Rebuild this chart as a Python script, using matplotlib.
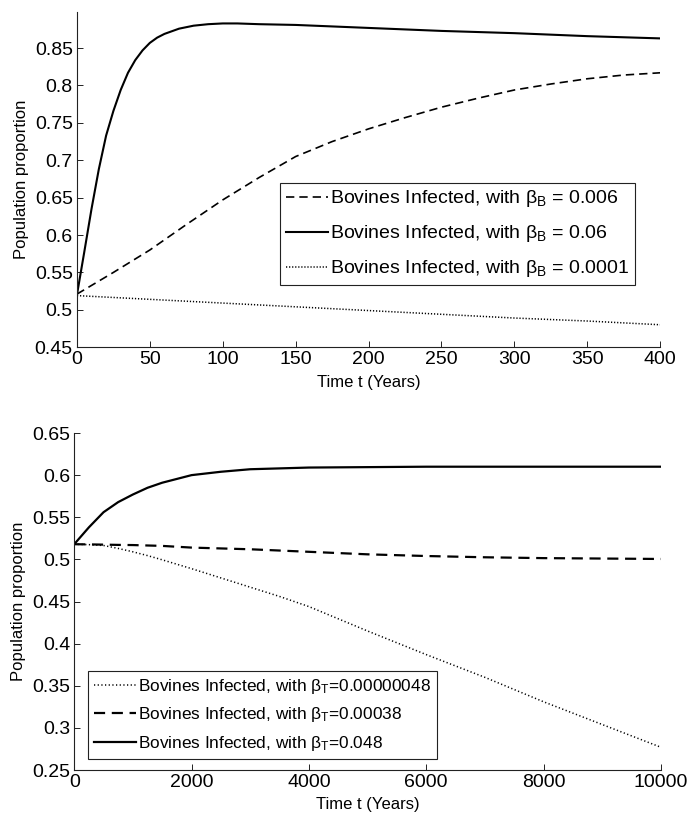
import matplotlib
matplotlib.use("Agg")
import matplotlib.pyplot as plt
import numpy as np

plt.rcParams['font.family'] = ['Liberation Sans', 'DejaVu Sans']
plt.rcParams['mathtext.fontset'] = 'custom'
plt.rcParams['mathtext.rm'] = 'Liberation Sans'
plt.rcParams['mathtext.default'] = 'regular'

# upper panel: beta_B sweep, time in years
t_fast = [0, 5, 10, 15, 20, 25, 30, 35, 40, 45, 50, 55, 60, 70, 80, 90, 100,
          110, 125, 150, 175, 200, 250, 300, 350, 400]
inf_b_006 = [0.520, 0.577, 0.635, 0.688, 0.733, 0.766, 0.794, 0.817, 0.834, 0.847,
             0.857, 0.864, 0.869, 0.876, 0.880, 0.882, 0.883,
             0.883, 0.882, 0.881, 0.879, 0.877, 0.873, 0.870, 0.866, 0.863]

t_slow = [0, 25, 50, 75, 100, 125, 150, 175, 200, 225, 250, 275, 300, 325, 350, 375, 400]
inf_b_0006 = [0.521, 0.550, 0.580, 0.614, 0.647, 0.677, 0.705, 0.725, 0.742, 0.757,
              0.771, 0.783, 0.794, 0.802, 0.809, 0.814, 0.817]
inf_b_00001 = [0.519, 0.5165, 0.514, 0.5115, 0.509, 0.5065, 0.504, 0.5015, 0.499, 0.4965,
               0.494, 0.4915, 0.489, 0.487, 0.485, 0.4825, 0.480]

labels_b = [r'Bovines Infected, with $\beta_B$ = 0.006',
            r'Bovines Infected, with $\beta_B$ = 0.06',
            r'Bovines Infected, with $\beta_B$ = 0.0001']

# lower panel: beta_T sweep
t_long = [0, 250, 500, 750, 1000, 1250, 1500, 2000, 2500, 3000, 3500, 4000,
          5000, 6000, 7000, 8000, 9000, 10000]
inf_t_048 = [0.518, 0.538, 0.556, 0.568, 0.577, 0.585, 0.591, 0.600, 0.604, 0.607,
             0.608, 0.609, 0.6095, 0.610, 0.610, 0.610, 0.610, 0.610]
inf_t_00038 = [0.518, 0.5178, 0.5175, 0.5172, 0.517, 0.5165, 0.516, 0.514, 0.513, 0.512,
               0.5105, 0.509, 0.506, 0.504, 0.5025, 0.5015, 0.501, 0.5005]
inf_t_tiny = [0.518, 0.5175, 0.5165, 0.513, 0.509, 0.5045, 0.4995, 0.489, 0.478, 0.467,
              0.456, 0.444, 0.415, 0.387, 0.360, 0.331, 0.304, 0.277]

labels_t = [r'Bovines Infected, with $\beta_T$=0.00000048',
            r'Bovines Infected, with $\beta_T$=0.00038',
            r'Bovines Infected, with $\beta_T$=0.048']

fig = plt.figure(figsize=(6.87, 8.15), dpi=100)
ax1 = fig.add_axes([0.112, 0.574, 0.849, 0.411])
ax2 = fig.add_axes([0.108, 0.0552, 0.854, 0.4135])


def style(ax):
    ax.spines['top'].set_visible(False)
    ax.spines['right'].set_visible(False)
    for s in ('left', 'bottom'):
        ax.spines[s].set_linewidth(0.8)
        ax.spines[s].set_color('#222222')
    ax.tick_params(direction='in', length=4, width=0.7, labelsize=14, pad=3,
                   top=False, right=False, colors='#222222', labelcolor='black')
    ax.set_xlabel('Time t (Years)', fontsize=12, labelpad=4.5)
    ax.set_ylabel('Population proportion', fontsize=12, labelpad=4)


ax1.plot(t_slow, inf_b_0006, color='black', lw=1.2, dashes=(5, 3), label=labels_b[0])
ax1.plot(t_fast, inf_b_006, color='black', lw=1.5, label=labels_b[1])
ax1.plot(t_slow, inf_b_00001, color='black', lw=1.1, dashes=(0.8, 1.2), label=labels_b[2])
ax1.set_xlim(0, 400)
ax1.set_ylim(0.45, 0.898)
ax1.set_xticks(np.arange(0, 401, 50))
ax1.set_yticks([0.45, 0.5, 0.55, 0.6, 0.65, 0.7, 0.75, 0.8, 0.85])
ax1.set_yticklabels(['0.45', '0.5', '0.55', '0.6', '0.65', '0.7', '0.75', '0.8', '0.85'])
style(ax1)
leg1 = ax1.legend(loc='lower right', bbox_to_anchor=(0.957, 0.185), borderaxespad=0,
                  fontsize=14, fancybox=False, framealpha=1, edgecolor='#222222',
                  handlelength=2.2, handletextpad=0.1, labelspacing=0.72, borderpad=0.3)
leg1.get_frame().set_linewidth(0.8)

ax2.plot(t_long, inf_t_tiny, color='black', lw=1.1, dashes=(0.8, 1.6), label=labels_t[0])
ax2.plot(t_long, inf_t_00038, color='black', lw=1.6, dashes=(5, 3), label=labels_t[1])
ax2.plot(t_long, inf_t_048, color='black', lw=1.6, label=labels_t[2])
ax2.set_xlim(0, 10000)
ax2.set_ylim(0.25, 0.65)
ax2.set_xticks(np.arange(0, 10001, 2000))
ax2.set_yticks([0.25, 0.3, 0.35, 0.4, 0.45, 0.5, 0.55, 0.6, 0.65])
ax2.set_yticklabels(['0.25', '0.3', '0.35', '0.4', '0.45', '0.5', '0.55', '0.6', '0.65'])
style(ax2)
leg2 = ax2.legend(loc='lower left', bbox_to_anchor=(0.024, 0.033), borderaxespad=0,
                  fontsize=12.4, fancybox=False, framealpha=1, edgecolor='#222222',
                  handlelength=2.4, handletextpad=0.15, labelspacing=0.55, borderpad=0.35)
leg2.get_frame().set_linewidth(0.8)

fig.savefig('out.png', dpi=100)
